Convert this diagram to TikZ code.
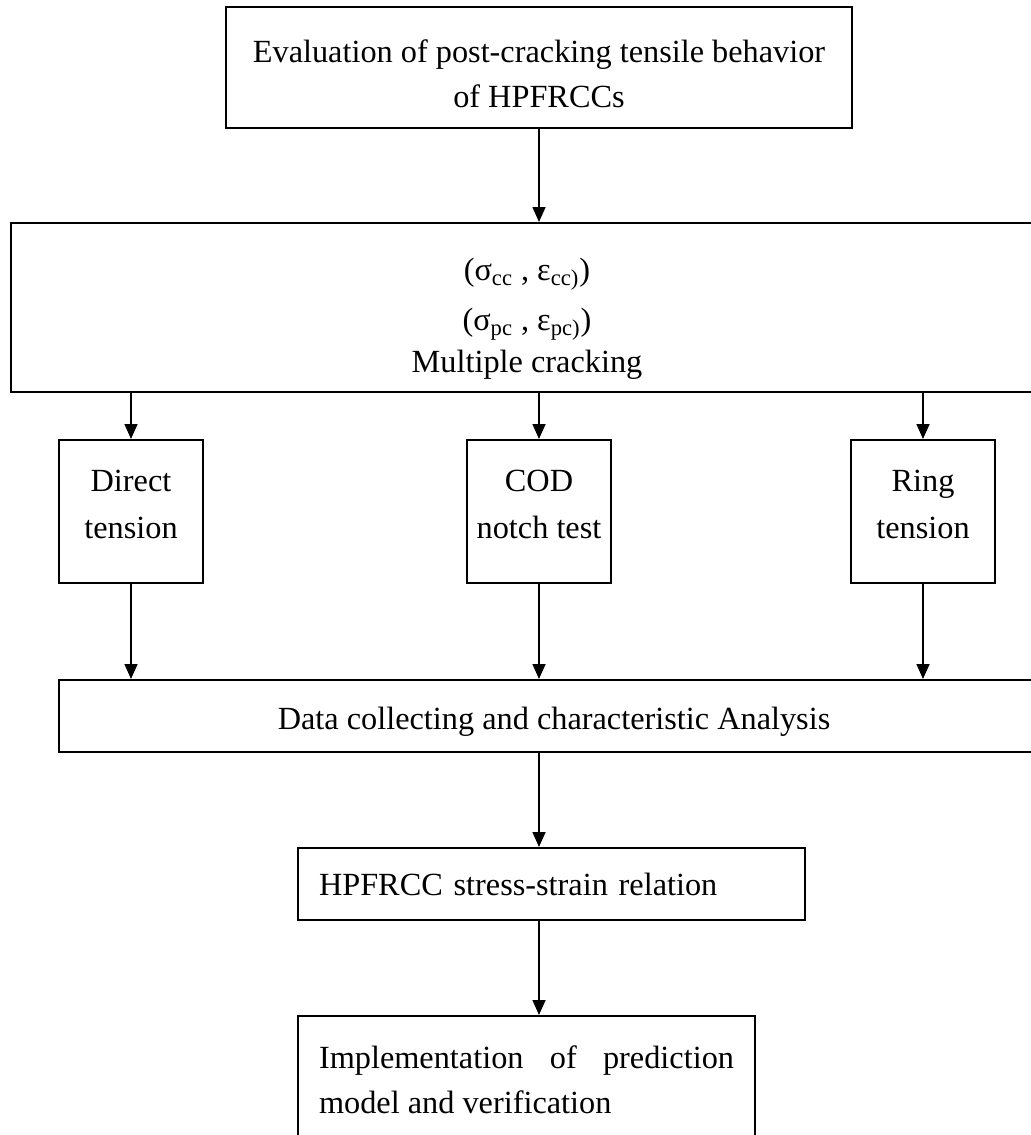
\documentclass[tikz,border=0pt]{standalone}
\usepackage{fontspec}
\setmainfont{Liberation Serif}
\usetikzlibrary{arrows.meta}
\hyphenpenalty=10000
\tolerance=9999
\newcommand\chartfont{\fontsize{16.15pt}{22.5pt}\selectfont}
\begin{document}
\begin{tikzpicture}[x=0.5pt,y=-0.5pt,
  box/.style={draw, line width=1pt, inner sep=0pt, align=center, font=\chartfont},
  caption/.style={inner sep=0pt, align=center, font=\chartfont},
  testbox/.style={box, minimum width=72pt, minimum height=71.5pt},
  link/.style={line width=0.8pt, -{Triangle[length=7.5pt,width=6.5pt]}}]
\useasboundingbox (0,0) rectangle (1031,1135);
\clip (0,0) rectangle (1031,1135);

% main flow boxes (frames, then their wording)
\node[box, minimum width=313pt, minimum height=60.5pt] (eval) at (539,67.5) {};
\node[caption] (evaltext) at (539,74) {Evaluation of post-cracking tensile behavior\\of HPFRCCs};
\node[box, minimum width=516pt, minimum height=84.5pt] (props) at (527,307.5) {};
\node[caption] (propstext) at (527,319)
  {(σ\textsubscript{cc} , ε\textsubscript{cc)})\\[2.5pt](σ\textsubscript{pc} , ε\textsubscript{pc)})\\[-1.5pt]Multiple cracking};

% test methods
\node[testbox] (direct) at (131,511.5) {};
\node[testbox] (cod) at (539,511.5) {};
\node[testbox] (ring) at (923,511.5) {};
\node[caption] (directtext) at (131,504) {Direct\\[1pt]tension};
\node[caption] (codtext) at (539,504) {COD\\[1pt]notch test};
\node[caption] (ringtext) at (923,504) {Ring\\[1pt]tension};

\node[box, minimum width=495pt, minimum height=36pt, text height=17pt, text depth=3.5pt] (data) at (554,716)
  {Data collecting and characteristic Analysis};
\node[box, minimum width=253.5pt, minimum height=36pt, inner xsep=10.5pt,
      text width=232.5pt, align=left] (hpf) at (551.5,884)
  {HPFRCC stress-strain relation};
\node[box, minimum height=63.5pt, inner xsep=10.5pt,
      text width=207.5pt, align=justify] (impl) at (526.5,1079.5)
  {Implementation of prediction model and verification};

% connectors
\draw[link] (eval.south) -- (eval.south |- props.north);
\foreach \n in {direct,cod,ring}{
  \draw[link] (props.south -| \n.north) -- (\n.north);
  \draw[link] (\n.south) -- (\n.south |- data.north);
}
\draw[link] (data.south -| eval.south) -- (eval.south |- hpf.north);
\draw[link] (hpf.south -| eval.south) -- (eval.south |- impl.north);
\end{tikzpicture}
\end{document}
